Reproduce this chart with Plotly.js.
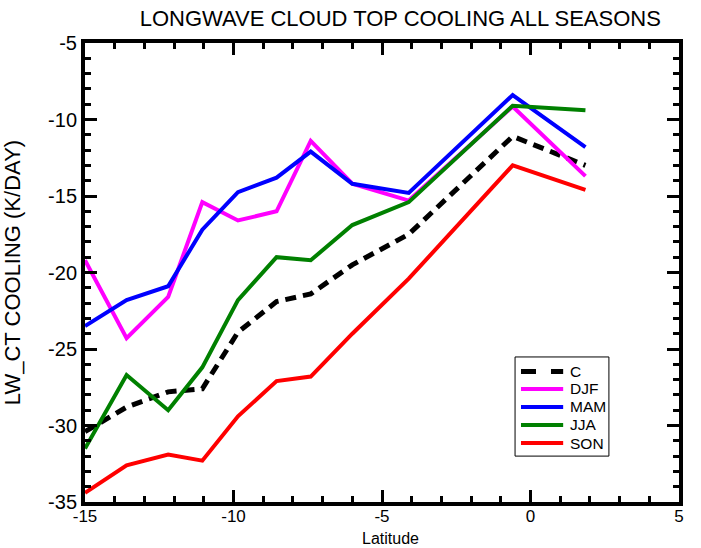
<!DOCTYPE html>
<html>
<head>
<meta charset="utf-8">
<script src="https://cdn.plot.ly/plotly-3.0.1.min.js"></script>
<style>
  html, body { margin: 0; padding: 0; background: #fff; }
  #chart { width: 701px; height: 548px; }
</style>
</head>
<body>
<div id="chart"></div>
<script>
// Latitudes of the sampled zonal bands
const lat = [-15, -13.6, -12.2, -11.05, -9.85, -8.55, -7.4, -6.0, -4.1, -0.6, 1.85];

// Longwave cloud-top cooling per season
const seriesNames = ['C', 'DJF', 'MAM', 'JJA', 'SON'];
const cAll = [-30.4, -28.8, -27.8, -27.6, -23.9, -21.9, -21.4, -19.5, -17.5, -11.1, -13.0];
const djf  = [-19.2, -24.3, -21.6, -15.4, -16.6, -16.0, -11.4, -14.2, -15.3, -9.15, -13.7];
const mam  = [-23.5, -21.8, -20.9, -17.2, -14.75, -13.8, -12.1, -14.2, -14.8, -8.4, -11.8];
const jja  = [-31.5, -26.7, -29.0, -26.2, -21.8, -19.0, -19.2, -16.9, -15.4, -9.1, -9.4];
const son  = [-34.4, -32.6, -31.9, -32.3, -29.4, -27.1, -26.8, -24.0, -20.4, -13.0, -14.6];

// Tick labels
const xTickVals = [-15, -10, -5, 0, 5];
const xTickText = ['-15', '-10', '-5', '0', '5'];
const yTickVals = [-35, -30, -25, -20, -15, -10, -5];
const yTickText = ['-35', '-30', '-25', '-20', '-15', '-10', '-5'];

const seriesValues = [cAll, djf, mam, jja, son];
const colors = ['#000000', '#ff00ff', '#0000ff', '#008000', '#ff0000'];
const widths = [5, 4, 4, 4, 4];
const dashes = ['11px,7px', 'solid', 'solid', 'solid', 'solid'];

const FONT = 'Liberation Sans, Arial, sans-serif';

const traces = seriesValues.map((vals, i) => ({
  x: lat,
  y: vals,
  type: 'scatter',
  mode: 'lines',
  name: seriesNames[i],
  line: { color: colors[i], width: widths[i], dash: dashes[i] },
  showlegend: false,
  hoverinfo: 'x+y+name'
}));

// Hand-built legend box in the lower right of the plot area
const legX0 = 0.724, legX1 = 0.882, legY0 = 0.100, legY1 = 0.316;
const rowY = [0.2843, 0.2462, 0.2070, 0.1678, 0.1285];
const shapes = [{
  type: 'rect', xref: 'paper', yref: 'paper',
  x0: legX0, x1: legX1, y0: legY0, y1: legY1,
  line: { color: '#000', width: 1 }, fillcolor: 'rgba(0,0,0,0)'
}];
const annotations = [];
seriesNames.forEach((name, i) => {
  shapes.push({
    type: 'line', xref: 'paper', yref: 'paper',
    x0: 0.734, x1: 0.805, y0: rowY[i], y1: rowY[i],
    line: { color: colors[i], width: widths[i], dash: i === 0 ? 'dash' : 'solid' }
  });
  annotations.push({
    xref: 'paper', yref: 'paper', x: 0.815, y: rowY[i],
    xanchor: 'left', yanchor: 'middle', showarrow: false,
    text: name, font: { family: FONT, size: 15.5, color: '#000' },
    borderpad: 0
  });
});

// x-axis caption, pinned to the bottom edge of the figure
annotations.push({
  xref: 'paper', yref: 'paper', x: 0.5135, y: -0.1002,
  xanchor: 'center', yanchor: 'bottom', showarrow: false,
  text: 'Latitude', font: { family: FONT, size: 16, color: '#000' },
  borderpad: 0
});

const axisCommon = {
  showline: true, linecolor: '#000', linewidth: 4, mirror: 'ticks',
  ticks: 'inside', ticklen: 12, tickwidth: 3, tickcolor: '#000',
  showgrid: false, zeroline: false, automargin: false,
  tickfont: { family: FONT, size: 17, color: '#000' },
  minor: { ticks: 'inside', ticklen: 6, tickwidth: 3, tickcolor: '#000', dtick: 1, showgrid: false }
};

const layout = {
  width: 701, height: 548,
  margin: { l: 85, r: 22, t: 43, b: 46 },
  paper_bgcolor: '#fff', plot_bgcolor: '#fff',
  font: { family: FONT, color: '#000' },
  title: {
    text: 'LONGWAVE CLOUD TOP COOLING ALL SEASONS',
    font: { family: FONT, size: 22, color: '#000' },
    x: 0.571, xref: 'container', xanchor: 'center',
    y: 0.967, yref: 'container', yanchor: 'middle'
  },
  xaxis: Object.assign({}, axisCommon, {
    range: [-15, 5],
    tickmode: 'array', tickvals: xTickVals, ticktext: xTickText,
    ticklabelstandoff: -4
  }),
  yaxis: Object.assign({}, axisCommon, {
    range: [-35, -5],
    tickmode: 'array', tickvals: yTickVals, ticktext: yTickText,
    tickfont: { family: FONT, size: 20, color: '#000' },
    title: { text: 'LW_CT COOLING (K/DAY)', font: { family: FONT, size: 22, color: '#000' }, standoff: 26 }
  }),
  shapes: shapes,
  annotations: annotations,
  showlegend: false
};

Plotly.newPlot('chart', traces, layout, { displayModeBar: false, staticPlot: true });
</script>
</body>
</html>
